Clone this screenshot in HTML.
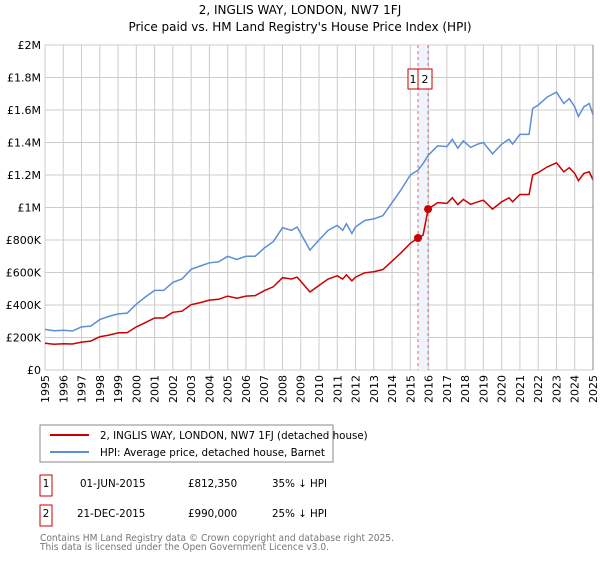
<!DOCTYPE html>
<html><head><meta charset="utf-8"><style>
body{margin:0;background:#fff;font-family:"Liberation Sans","DejaVu Sans",sans-serif}
svg text{font-family:"DejaVu Sans","Liberation Sans",sans-serif}
</style></head><body>
<svg id="c" width="600" height="560" xmlns="http://www.w3.org/2000/svg">
<text x="300" y="14" text-anchor="middle" font-size="12">2, INGLIS WAY, LONDON, NW7 1FJ</text>
<text x="300" y="31" text-anchor="middle" font-size="12">Price paid vs. HM Land Registry's House Price Index (HPI)</text>
<g id="grid"></g><g id="band"></g><g id="series"></g><g id="axes"></g>
<rect x="40" y="425" width="293" height="37" fill="none" stroke="#888"/>
<line x1="50" y1="435" x2="89" y2="435" stroke="#cc0000" stroke-width="2"/>
<text x="100" y="439" font-size="10.3">2, INGLIS WAY, LONDON, NW7 1FJ (detached house)</text>
<line x1="50" y1="452" x2="89" y2="452" stroke="#5b8fd6" stroke-width="2"/>
<text x="100" y="456" font-size="10.3">HPI: Average price, detached house, Barnet</text>
<g>
<rect x="40" y="475" width="12" height="21" fill="none" stroke="#cc0000"/>
<text x="46" y="487" font-size="10.3" text-anchor="middle">1</text>
<text x="80" y="487" font-size="10.3">01-JUN-2015</text>
<text x="188" y="487" font-size="10.3">£812,350</text>
<text x="272" y="487" font-size="10.3">35% ↓ HPI</text></g>
<g>
<rect x="40" y="505" width="12" height="21" fill="none" stroke="#cc0000"/>
<text x="46" y="517" font-size="10.3" text-anchor="middle">2</text>
<text x="77" y="517" font-size="10.3">21-DEC-2015</text>
<text x="188" y="517" font-size="10.3">£990,000</text>
<text x="272" y="517" font-size="10.3">25% ↓ HPI</text></g>
<text x="40" y="541" font-size="10" fill="#777" textLength="354" lengthAdjust="spacingAndGlyphs">Contains HM Land Registry data © Crown copyright and database right 2025.</text>
<text x="40" y="550" font-size="10" fill="#777" textLength="289" lengthAdjust="spacingAndGlyphs">This data is licensed under the Open Government Licence v3.0.</text>
</svg>
<script>
const dates=[1995.0,1995.5,1996.0,1996.5,1997.0,1997.5,1998.0,1998.5,1999.0,1999.5,2000.0,2000.5,2001.0,2001.5,2002.0,2002.5,2003.0,2003.5,2004.0,2004.5,2005.0,2005.5,2006.0,2006.5,2007.0,2007.5,2008.0,2008.5,2008.8,2009.2,2009.5,2010.0,2010.5,2011.0,2011.3,2011.5,2011.8,2012.0,2012.5,2013.0,2013.5,2014.0,2014.5,2015.0,2015.42,2015.7,2015.97,2016.5,2017.0,2017.3,2017.6,2017.9,2018.3,2018.7,2019.0,2019.5,2020.0,2020.4,2020.6,2021.0,2021.5,2021.7,2022.0,2022.5,2023.0,2023.4,2023.7,2024.0,2024.2,2024.5,2024.8,2025.0];
const hpi=[250,242,245,240,265,270,310,330,345,350,405,450,490,490,540,560,620,640,660,665,700,680,700,700,750,790,875,860,880,800,738,800,860,890,860,900,840,880,920,930,950,1030,1110,1200,1230,1270,1320,1380,1375,1420,1365,1410,1370,1390,1400,1330,1390,1420,1390,1450,1450,1610,1630,1680,1710,1640,1670,1620,1560,1620,1640,1570];
const price=[165,158,162,160,172,178,205,215,228,230,265,292,320,320,355,362,402,415,430,435,455,442,455,458,488,512,568,560,572,520,480,520,560,580,560,585,548,572,598,605,618,670,722,780,812,830,990,1030,1025,1060,1018,1050,1020,1035,1045,990,1035,1060,1035,1080,1080,1200,1215,1250,1275,1220,1245,1210,1165,1210,1220,1170];
const saleDates=[2015.42,2015.97];
const saleValues=[812.35,990];
const yTicks=[0,200,400,600,800,1000,1200,1400,1600,1800,2000];
const yLabels=["£0","£200K","£400K","£600K","£800K","£1M","£1.2M","£1.4M","£1.6M","£1.8M","£2M"];
const years=[1995,1996,1997,1998,1999,2000,2001,2002,2003,2004,2005,2006,2007,2008,2009,2010,2011,2012,2013,2014,2015,2016,2017,2018,2019,2020,2021,2022,2023,2024,2025];
const X0=45,X1=593,Y0=370,Y1=45;
const xs=d=>X0+(d-1995)/30*(X1-X0);
const ys=v=>Y0-v/2000*(Y0-Y1);
const NS="http://www.w3.org/2000/svg";
function mk(t,a,p){const e=document.createElementNS(NS,t);for(const k in a)e.setAttribute(k,a[k]);p.appendChild(e);return e;}
const grid=document.getElementById('grid'),axes=document.getElementById('axes'),band=document.getElementById('band'),ser=document.getElementById('series');
yTicks.forEach((v,i)=>{
 const l=mk('line',{x1:X0,x2:X1,y1:ys(v),y2:ys(v),stroke:'#ccc'},grid);
 
 
 const t=mk('text',{x:X0-4,y:ys(v)+4,'text-anchor':'end','font-size':11},axes);
 t.textContent=yLabels[i];
 
 
});
years.forEach(y=>{
 const l=mk('line',{x1:xs(y),x2:xs(y),y1:Y1,y2:Y0,stroke:'#ccc'},grid);
 
 
 const t=mk('text',{x:0,y:0,'text-anchor':'end','font-size':11,transform:`translate(${xs(y)+4},${Y0+5}) rotate(-90)`},axes);
 t.textContent=y;
 
 
});
const b=mk('rect',{x:xs(saleDates[0]),y:Y1,width:xs(saleDates[1])-xs(saleDates[0]),height:Y0-Y1,fill:'#eef3fc'},band);


saleDates.forEach((d,i)=>{
 const l=mk('line',{x1:xs(d),x2:xs(d),y1:Y1,y2:Y0,stroke:'#e66','stroke-dasharray':'3,3'},band);
 
 
});
const b0=xs(saleDates[0]);
[[b0-10,10],[b0,14]].forEach((p,i)=>{
 const r=mk('rect',{x:p[0],y:69,width:p[1],height:20,fill:'#fff',stroke:'#cc0000'},band);
 
 
 const t=mk('text',{x:p[0]+p[1]/2,y:83,'text-anchor':'middle','font-size':11},band);
 t.textContent=String(i+1);
});
function path(arr,col,name){
 const p=mk('path',{d:arr.map((v,i)=>(i?'L':'M')+xs(dates[i]).toFixed(1)+','+ys(v).toFixed(1)).join(''),fill:'none',stroke:col,'stroke-width':1.5},ser);
 
 
}
path(hpi,'#5b8fd6','hpi-line');
path(price,'#cc0000','price-paid-line');
saleDates.forEach((d,i)=>{
 const c=mk('circle',{cx:xs(d),cy:ys(saleValues[i]),r:4,fill:'#cc0000'},ser);
 
 
});
const ax=mk('line',{x1:X1,x2:X1,y1:Y1,y2:Y0,stroke:'#888'},axes);


</script>
</body></html>
